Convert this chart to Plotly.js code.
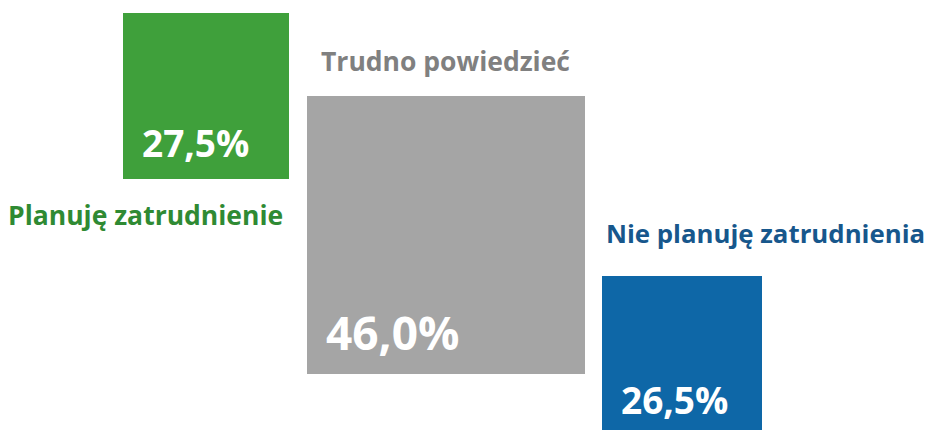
<!DOCTYPE html>
<html><head><meta charset="utf-8">
<script src="https://cdn.plot.ly/plotly-3.0.1.min.js"></script>
<style>html,body{margin:0;padding:0;background:#fff;overflow:hidden}</style>
</head><body><div id="chart" style="width:933px;height:430px"></div>
<script>
// ---- data ----
const categories = ["Planuję zatrudnienie", "Trudno powiedzieć", "Nie planuję zatrudnienia"];
const values = [27.5, 46.0, 26.5];
const valueLabels = ["27,5%", "46,0%", "26,5%"];

// ---- layout constants ----
const W = 933, H = 430, K = 6.04;           // px per percentage point (square side ∝ value)
const firstLeft = 20.4, gap = 2.9;
const tops = [2.15, 15.9, 45.65];
const colors = ['#3FA03B', '#A5A5A5', '#0E67A7'];
const labelColors = ['#2F8A33', '#808080', '#17578C'];
const valueFont = [37, 46, 37];
const labelFont = [26.5, 26.5, 25.8];
const FONT = 'Open Sans, sans-serif';

const lefts = []; let acc = firstLeft;
values.forEach(v => { lefts.push(acc); acc += v + gap; });
const centers = values.map((v, i) => lefts[i] + v / 2);

const trace = {
  type: 'bar', x: centers, y: values, base: tops, width: values,
  marker: {color: colors, line: {width: 0}},
  hoverinfo: 'none', showlegend: false
};

const annotations = [];
values.forEach((v, i) => {
  annotations.push({
    x: lefts[i], y: tops[i] + v - 9 / K, xref: 'x', yref: 'y',
    xanchor: 'left', yanchor: 'bottom', xshift: 17,
    text: '<b>' + valueLabels[i] + '</b>', showarrow: false,
    font: {family: FONT, size: valueFont[i], color: '#FFFFFF'}
  });
});
// category labels
annotations.push({
  x: lefts[0] + values[0], y: tops[0] + values[0], xref: 'x', yref: 'y',
  xanchor: 'right', yanchor: 'top', xshift: -4, yshift: -16,
  text: '<b>' + categories[0] + '</b>', showarrow: false,
  font: {family: FONT, size: labelFont[0], color: labelColors[0]}
});
annotations.push({
  x: centers[1], y: tops[1], xref: 'x', yref: 'y',
  xanchor: 'center', yanchor: 'bottom', yshift: 15,
  text: '<b>' + categories[1] + '</b>', showarrow: false,
  font: {family: FONT, size: labelFont[1], color: labelColors[1]}
});
annotations.push({
  x: lefts[2], y: tops[2], xref: 'x', yref: 'y',
  xanchor: 'left', yanchor: 'bottom', xshift: 2, yshift: 23,
  text: '<b>' + categories[2] + '</b>', showarrow: false,
  font: {family: FONT, size: labelFont[2], color: labelColors[2]}
});

const layout = {
  width: W, height: H, margin: {l: 0, r: 0, t: 0, b: 0, pad: 0},
  paper_bgcolor: '#FFFFFF', plot_bgcolor: '#FFFFFF',
  xaxis: {range: [0, W / K], visible: false, fixedrange: true},
  yaxis: {range: [H / K, 0], visible: false, fixedrange: true},
  annotations: annotations, bargap: 0
};
Plotly.newPlot('chart', [trace], layout, {displayModeBar: false, staticPlot: true});
</script></body></html>
